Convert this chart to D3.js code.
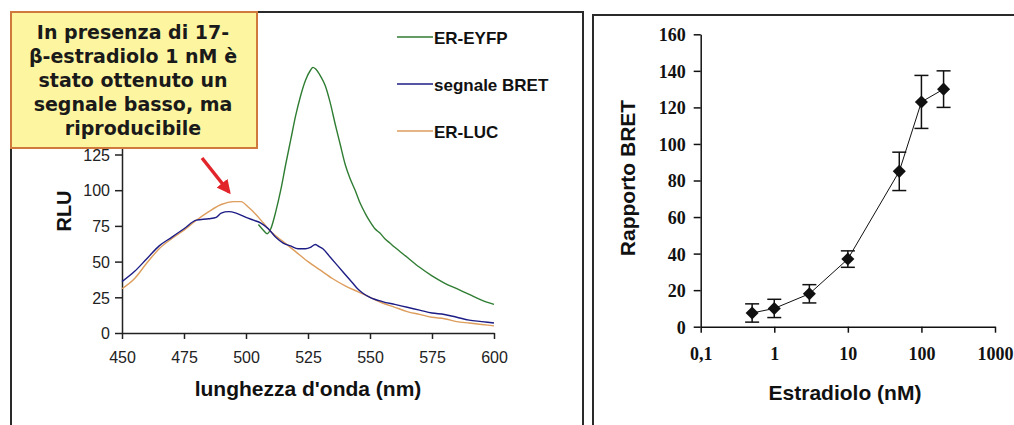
<!DOCTYPE html>
<html>
<head>
<meta charset="utf-8">
<script src="https://cdn.jsdelivr.net/npm/d3@7"></script>
<style>
  body { margin: 0; background: #fff; }
  svg { display: block; }
</style>
</head>
<body>
<svg id="chart" width="1014" height="425"></svg>
<script>
// --- left: emission spectra (wavelength nm, RLU) ---
const erEyfp = [[505,76],[507,72],[508.5,69.5],[510,73],[512,85],[514,100],[516,118],[518,135],[520,152],[522,166],
  [524,177],[526,184],[527,186],[528,185],[530,180],[532,173],[534,161],[536,146],[538,132],[540,118],[542,108],
  [544,100],[546,91],[548,84],[550,78],[552,73],[554,70],[556,66],[558,63],[560,60],[565,53],[570,46],[575,40],
  [580,35],[585,31],[590,27],[595,23],[600,20]];
const segnaleBret = [[450,36],[455,43],[460,52],[465,61],[470,67],[475,73],[480,79],[485,80],[488,81],[490,84],
  [493,85],[496,84],[500,81],[503,79],[506,77],[509,73],[512,67],[515,63],[518,61],[521,59],[524,59],[526,60],
  [528,62],[529,61],[531,59],[534,53],[537,47],[540,41],[543,35],[545,31],[547,28],[550,25],[555,22],[560,20],
  [565,18],[570,16],[575,14],[580,13],[585,11],[590,9],[595,8],[600,7]];
const erLuc = [[450,31],[455,38],[460,49],[465,59],[470,66],[475,72],[480,79],[485,85],[490,90],[495,92],[498,92],
  [501,88],[504,83],[507,77],[510,71],[515,64],[520,57],[525,50],[530,44],[535,38],[540,33],[545,29],[550,25],
  [555,21],[560,18],[565,15],[570,13],[575,11],[580,10],[585,8],[590,7],[595,6],[600,5]];
const spectraNames = ["ER-EYFP", "segnale BRET", "ER-LUC"];
const wlTicks = [450, 475, 500, 525, 550, 575, 600];
// ticks above 125 sit under the note box in the original
const rluTicks = [0, 25, 50, 75, 100, 125];
const noteLines = ["In presenza di 17-", "\u03b2-estradiolo 1 nM \u00e8", "stato ottenuto un", "segnale basso, ma", "riproducibile"];

// --- right: dose response ---
const estradiolo = [0.5, 1, 3, 10, 50, 100, 200];
const rapportoBret = [7.5, 10, 18, 37, 85, 123, 130];
const errBret = [5, 5, 5, 4.5, 10.5, 14.5, 10];
const doseTicks = [0.1, 1, 10, 100, 1000];
const doseLabels = ["0,1", "1", "10", "100", "1000"];
const ratioTicks = [0, 20, 40, 60, 80, 100, 120, 140, 160];

const svg = d3.select("#chart");
svg.append("rect").attr("width", 1014).attr("height", 425).attr("fill", "#fff");

// panel frames
svg.append("rect").attr("x", 11).attr("y", 12).attr("width", 572).attr("height", 440)
  .attr("fill", "none").attr("stroke", "#2a2a2a").attr("stroke-width", 2);
svg.append("rect").attr("x", 593).attr("y", 15).attr("width", 440).attr("height", 440)
  .attr("fill", "none").attr("stroke", "#2a2a2a").attr("stroke-width", 2);

// ================= left chart =================
const xL = d3.scaleLinear().domain([450, 600]).range([122, 494]);
const yL = d3.scaleLinear().domain([0, 200]).range([333, 47.4]);

const gxL = svg.append("g").attr("transform", "translate(0,333)")
  .call(d3.axisBottom(xL).tickValues(wlTicks).tickSize(6).tickSizeOuter(0).tickPadding(13));
const gyL = svg.append("g").attr("transform", "translate(122,0)")
  .call(d3.axisLeft(yL).tickValues(rluTicks).tickSize(7).tickSizeOuter(0).tickPadding(5));
[gxL, gyL].forEach(g => {
  g.selectAll("path, line").attr("stroke", "#222").attr("stroke-width", 1.5);
  g.selectAll("text").attr("font-family", "Liberation Sans, Arial, sans-serif")
    .attr("font-size", 16).attr("fill", "#222");
});
gyL.selectAll("text").attr("dy", "0.36em");

svg.append("text").attr("x", 308).attr("y", 396).attr("text-anchor", "middle")
  .attr("font-family", "Liberation Sans, Arial, sans-serif").attr("font-weight", "bold")
  .attr("font-size", 21).attr("fill", "#111").text("lunghezza d'onda (nm)");
svg.append("text").attr("transform", "translate(71,211) rotate(-90)").attr("text-anchor", "middle")
  .attr("font-family", "Liberation Sans, Arial, sans-serif").attr("font-weight", "bold")
  .attr("font-size", 20).attr("fill", "#111").text("RLU");

const specLine = d3.line().x(d => xL(d[0])).y(d => yL(d[1])).curve(d3.curveMonotoneX);
const specColors = ["#2f7d32", "#1d1d86", "#dd9d5c"];
const specData = [erEyfp, segnaleBret, erLuc];
// draw order: green under, orange, blue on top
[0, 2, 1].forEach(i => {
  svg.append("path").datum(specData[i]).attr("d", specLine)
    .attr("fill", "none").attr("stroke", specColors[i]).attr("stroke-width", 1.4);
});

// legend
const legY = [37, 84, 131];
spectraNames.forEach((name, i) => {
  svg.append("line").attr("x1", 397).attr("x2", 433).attr("y1", legY[i]).attr("y2", legY[i])
    .attr("stroke", specColors[i]).attr("stroke-width", 1.4);
  svg.append("text").attr("x", 434).attr("y", legY[i] + 7)
    .attr("font-family", "Liberation Sans, Arial, sans-serif").attr("font-weight", "bold")
    .attr("font-size", 17).attr("fill", "#111").text(name);
});

// annotation box
svg.append("rect").attr("x", 11).attr("y", 12).attr("width", 246).attr("height", 136)
  .attr("fill", "#fdf5a0").attr("stroke", "#cf7a3c").attr("stroke-width", 2);
noteLines.forEach((t, i) => {
  svg.append("text").attr("x", 133).attr("y", 39 + i * 24).attr("text-anchor", "middle")
    .attr("font-family", "DejaVu Sans, Verdana, sans-serif").attr("font-weight", "bold")
    .attr("font-size", 19).attr("fill", "#1a1a1a").text(t);
});

// red arrow
svg.append("defs").append("marker").attr("id", "arrowhead")
  .attr("viewBox", "0 0 10 10").attr("refX", 8).attr("refY", 5)
  .attr("markerWidth", 4).attr("markerHeight", 4).attr("orient", "auto")
  .append("path").attr("d", "M0,0 L10,5 L0,10 Z").attr("fill", "#e2252b");
svg.append("line").attr("x1", 202).attr("y1", 158).attr("x2", 229).attr("y2", 192)
  .attr("stroke", "#e2252b").attr("stroke-width", 3.5).attr("marker-end", "url(#arrowhead)");

// ================= right chart =================
const xR = d3.scaleLog().domain([0.1, 1000]).range([700.7, 995]);
const yR = d3.scaleLinear().domain([0, 160]).range([326.7, 34.3]);

const gxR = svg.append("g").attr("transform", "translate(0,326.7)")
  .call(d3.axisBottom(xR).tickValues(doseTicks).tickFormat((d, i) => doseLabels[i])
    .tickSize(6).tickSizeOuter(0).tickPadding(15));
const gyR = svg.append("g").attr("transform", "translate(700.7,0)")
  .call(d3.axisLeft(yR).tickValues(ratioTicks).tickSize(7).tickSizeOuter(0).tickPadding(8));
[gxR, gyR].forEach(g => {
  g.selectAll("path, line").attr("stroke", "#111").attr("stroke-width", 1.5);
  g.selectAll("text").attr("font-family", "Liberation Serif, Times New Roman, serif")
    .attr("font-weight", "bold").attr("font-size", 18).attr("fill", "#111");
});
gyR.selectAll("text").attr("dy", "0.36em");

svg.append("text").attr("x", 845).attr("y", 400).attr("text-anchor", "middle")
  .attr("font-family", "Liberation Sans, Arial, sans-serif").attr("font-weight", "bold")
  .attr("font-size", 21).attr("fill", "#111").text("Estradiolo (nM)");
svg.append("text").attr("transform", "translate(635,178) rotate(-90)").attr("text-anchor", "middle")
  .attr("font-family", "Liberation Sans, Arial, sans-serif").attr("font-weight", "bold")
  .attr("font-size", 21).attr("fill", "#111").text("Rapporto BRET");

const doseData = estradiolo.map((c, i) => ({c, v: rapportoBret[i], e: errBret[i]}));
svg.append("path").datum(doseData)
  .attr("d", d3.line().x(d => xR(d.c)).y(d => yR(d.v)))
  .attr("fill", "none").attr("stroke", "#111").attr("stroke-width", 1);

const eb = svg.append("g").attr("stroke", "#111").attr("stroke-width", 1.5);
doseData.forEach(d => {
  const x = xR(d.c);
  eb.append("line").attr("x1", x).attr("x2", x).attr("y1", yR(d.v - d.e)).attr("y2", yR(d.v + d.e));
  [d.v - d.e, d.v + d.e].forEach(v => {
    eb.append("line").attr("x1", x - 7).attr("x2", x + 7).attr("y1", yR(v)).attr("y2", yR(v));
  });
});

svg.append("g").selectAll("path").data(doseData).join("path")
  .attr("d", d3.symbol(d3.symbolSquare, 85))
  .attr("transform", d => `translate(${xR(d.c)},${yR(d.v)}) rotate(45)`)
  .attr("fill", "#111");
</script>
</body>
</html>
